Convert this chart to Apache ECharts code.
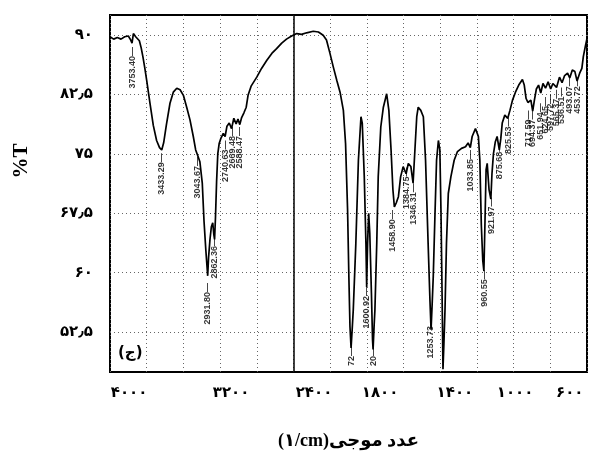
<!DOCTYPE html>
<html>
<head>
<meta charset="utf-8">
<script src="https://cdn.jsdelivr.net/npm/echarts@6/dist/echarts.min.js"></script>
<style>
  html, body { margin: 0; padding: 0; background: #fff; }
  #chart { width: 592px; height: 458px; }
</style>
</head>
<body>
<div id="chart"></div>
<script>
// 光谱: wavenumber (1/cm) and %T
const waveNum = [
  4000, 3960, 3920, 3880, 3840, 3800, 3775, 3760, 3745, 3720, 3700, 3680, 3660, 3640, 3620, 3600,
  3564, 3528, 3492, 3460, 3436, 3415, 3385, 3346, 3310, 3272, 3236, 3200, 3164, 3128, 3092, 3066,
  3044, 3020, 2994, 2975, 2955, 2935, 2925, 2910, 2895, 2880, 2868, 2860, 2850, 2838, 2825, 2810,
  2790, 2765, 2745, 2725, 2700, 2675, 2650, 2625, 2605, 2585, 2565, 2540, 2515, 2495, 2460, 2400,
  2348, 2292, 2236, 2184, 2128, 2076, 2020, 2000,
  1982, 1956, 1928, 1892, 1864, 1838, 1820, 1801, 1783, 1764, 1746, 1728, 1716, 1705, 1698, 1692,
  1686, 1680, 1674, 1660, 1646, 1632, 1625, 1614, 1605, 1601, 1596, 1590, 1584, 1575, 1569, 1566,
  1560, 1556, 1546, 1538, 1524, 1510, 1492, 1480, 1468, 1458, 1450, 1440, 1428, 1416, 1402, 1386,
  1374, 1360, 1348, 1338, 1328, 1320, 1306, 1292, 1280, 1266, 1256, 1250, 1244, 1238, 1228, 1220,
  1210, 1202, 1196, 1190, 1185, 1180, 1174, 1166, 1156, 1142, 1124, 1106, 1084, 1062, 1048, 1036,
  1026, 1008, 992, 984, 976, 968, 962, 956, 950, 944, 934, 924, 918, 910, 900, 890,
  878, 870, 862, 848, 832, 826, 820, 806, 790, 772, 752, 742, 732, 722, 716, 706,
  696, 686, 676, 664, 652, 640, 626, 612, 598, 586, 566, 550, 536, 522, 506, 494,
  480, 466, 454, 440, 428, 420, 410, 400
];
const transm = [
  89.8, 89.5, 89.7, 89.5, 89.8, 89.9, 89.4, 89.0, 90.2, 89.8, 89.6, 89.3, 88.4, 87.2, 85.8, 84.3,
  81.4, 78.6, 76.7, 75.8, 75.5, 76.4, 78.7, 81.4, 82.8, 83.3, 83.1, 82.4, 80.9, 79.3, 77.2, 75.5,
  74.8, 74.0, 71.3, 66.5, 62.8, 59.6, 62.0, 64.2, 65.8, 66.3, 64.8, 64.2, 67.0, 71.5, 75.0, 76.3,
  77.0, 77.6, 77.2, 78.5, 78.9, 78.2, 79.5, 78.8, 79.4, 78.7, 79.6, 80.2, 80.9, 82.4, 83.6, 84.7,
  85.8, 86.8, 87.7, 88.3, 89.0, 89.5, 89.9, 90.0,
  90.2, 90.1, 90.3, 90.5, 90.4, 90.0, 89.4, 87.7, 86.0, 84.3, 82.8, 80.5, 76.3, 67.9, 59.5, 53.2,
  50.5, 52.8, 55.3, 63.7, 74.2, 79.7, 78.9, 72.1, 63.7, 58.2, 63.7, 67.5, 65.0, 57.4, 51.5, 50.3,
  53.5, 55.3, 63.7, 72.1, 78.4, 80.9, 82.6, 80.5, 75.5, 70.5, 68.3, 68.8, 69.6, 72.1, 73.4, 72.5,
  73.8, 73.4, 71.3, 75.5, 79.7, 80.9, 80.5, 79.7, 74.2, 63.7, 56.5, 52.8, 56.0, 59.5, 67.9, 74.2,
  76.7, 75.5, 67.9, 57.4, 47.8, 51.0, 55.3, 63.7, 70.0, 72.1, 74.2, 75.3, 75.7, 75.9, 76.4, 75.8,
  77.2, 78.2, 77.2, 74.2, 66.0, 61.5, 60.2, 66.5, 73.0, 73.8, 70.5, 69.3, 72.5, 75.0, 76.5, 77.2,
  75.5, 76.9, 78.9, 79.9, 79.5, 79.3, 80.5, 81.8, 82.8, 83.7, 84.4, 83.7, 82.0, 81.5, 81.3, 81.8,
  80.4, 81.9, 83.2, 83.7, 82.7, 83.9, 83.3, 84.1, 83.2, 83.9, 83.4, 84.7, 84.0, 84.9, 85.2, 84.6,
  85.6, 85.4, 84.2, 85.2, 85.8, 87.3, 88.5, 89.6
];

// 峰值标注: where each label hangs and its text
const peakWave = [
  3753.40, 3433.29, 3043.67, 2931.80, 2862.36, 2740.63, 2669.48, 2588.47,
  1686, 1600.92, 1566, 1458.90, 1384.75, 1346.31, 1253.73,
  1033.85, 960.55, 921.97, 875.68, 825.53, 717.59, 694.37, 651.94,
  624.65, 597.72, 565.37, 536.51, 493.07, 453.72
];
const peakText = [
  '3753.40', '3433.29', '3043.67', '2931.80', '2862.36', '2740.63', '2669.48', '2588.47',
  '72', '1600.92', '20', '1458.90', '1384.75', '1346.31', '1253.73',
  '1033.85', '960.55', '921.97', '875.68', '825.53', '717.59', '694.37', '651.94',
  '624.65', '597.72', '565.37', '536.51', '493.07', '453.72'
];
const peakT = [
  88.5, 75.1, 74.6, 58.7, 64.5, 76.7, 78.4, 78.4,
  50.6, 58.2, 50.6, 67.9, 73.3, 71.3, 54.4,
  75.5, 60.3, 69.5, 76.4, 79.6, 80.5, 80.5, 81.4,
  82.2, 82.5, 83.1, 83.4, 84.7, 84.7
];

// 坐标轴文字
const xTickText = ['۴۰۰۰', '۳۲۰۰', '۲۴۰۰', '۱۸۰۰', '۱۴۰۰', '۱۰۰۰', '۶۰۰'];
const yTicks = [52.5, 60, 67.5, 75, 82.5, 90];
const yTickText = ['۵۲٫۵', '۶۰', '۶۷٫۵', '۷۵', '۸۲٫۵', '۹۰'];

// the spectrometer doubles the scale below 2000: 400 per step above, 200 per step below
function toU(w) {
  return w >= 2000 ? (4000 - w) / 400 : 5 + (2000 - w) / 200;
}
// the printed tick labels are not sitting on their own values, so place them where the page has them
const xLabelAt = [0.52, 3.30, 5.56, 7.36, 9.40, 11.04, 12.53];

const persianFont = "'DejaVu Sans', sans-serif";
const dotted = { color: '#666', type: [1, 3], width: 1 };

let myChart = echarts.init(document.getElementById('chart'));
myChart.setOption({
  animation: false,
  grid: {
    left: 110, right: 5, top: 15, bottom: 86,
    show: true, borderColor: '#000', borderWidth: 2
  },
  xAxis: {
    type: 'value',
    min: 0, max: 13, interval: 1,
    axisLine: { show: false },
    axisTick: { show: false },
    splitLine: { show: true, lineStyle: dotted },
    axisLabel: {
      customValues: xLabelAt,
      formatter: function (v) {
        const i = xLabelAt.findIndex(a => Math.abs(a - v) < 1e-6);
        return i >= 0 ? xTickText[i] : '';
      },
      margin: 14,
      color: '#000', fontSize: 15, fontWeight: 'bold', fontFamily: persianFont
    },
    name: '(۱/cm)عدد موجی',
    nameLocation: 'middle',
    nameGap: 60,
    nameTextStyle: { color: '#000', fontSize: 18, fontWeight: 'bold', fontFamily: "'Liberation Serif', 'DejaVu Sans', serif" }
  },
  yAxis: {
    type: 'value',
    min: 47.45, max: 92.55,
    axisLine: { show: false },
    axisTick: { show: false, customValues: yTicks },
    splitLine: { show: true, lineStyle: dotted },
    axisLabel: {
      customValues: yTicks,
      formatter: function (v) {
        const i = yTicks.findIndex(a => Math.abs(a - v) < 1e-6);
        return i >= 0 ? yTickText[i] : '';
      },
      margin: 17,
      color: '#000', fontSize: 15, fontWeight: 'bold', fontFamily: persianFont
    }
  },
  series: [
    {
      name: 'IR',
      type: 'line',
      data: waveNum.map((w, i) => [toU(w), transm[i]]),
      showSymbol: false,
      lineStyle: { color: '#000', width: 1.7 },
      // 2000 断点的竖线
      markLine: {
        silent: true,
        symbol: 'none',
        label: { show: false },
        lineStyle: { color: '#000', type: 'solid', width: 1.5 },
        data: [{ xAxis: 5 }]
      }
    },
    {
      name: 'peaks',
      type: 'scatter',
      symbolSize: 0,
      itemStyle: { color: 'rgba(0,0,0,0)' },
      data: peakWave.map((w, i) => ({ value: [toU(w), peakT[i]], name: peakText[i] })),
      label: {
        show: true,
        position: 'inside',
        rotate: 90,
        align: 'right',
        verticalAlign: 'middle',
        formatter: '{b}—',
        color: '#000',
        fontSize: 9,
        fontWeight: 'bold',
        fontFamily: "'Liberation Sans', sans-serif"
      }
    }
  ],
  graphic: [
    // y 轴标题, sits above the middle of the axis in the original
    {
      type: 'text',
      x: 22, y: 161,
      rotation: Math.PI / 2,
      style: {
        text: '%T', fill: '#000',
        font: "bold 21px 'Liberation Serif', serif",
        textAlign: 'center', textVerticalAlign: 'middle'
      }
    },
    {
      type: 'text',
      left: 118, top: 346,
      style: { text: '(ج)', fill: '#000', font: "bold 15px 'DejaVu Sans'" }
    }
  ]
});
</script>
</body>
</html>
